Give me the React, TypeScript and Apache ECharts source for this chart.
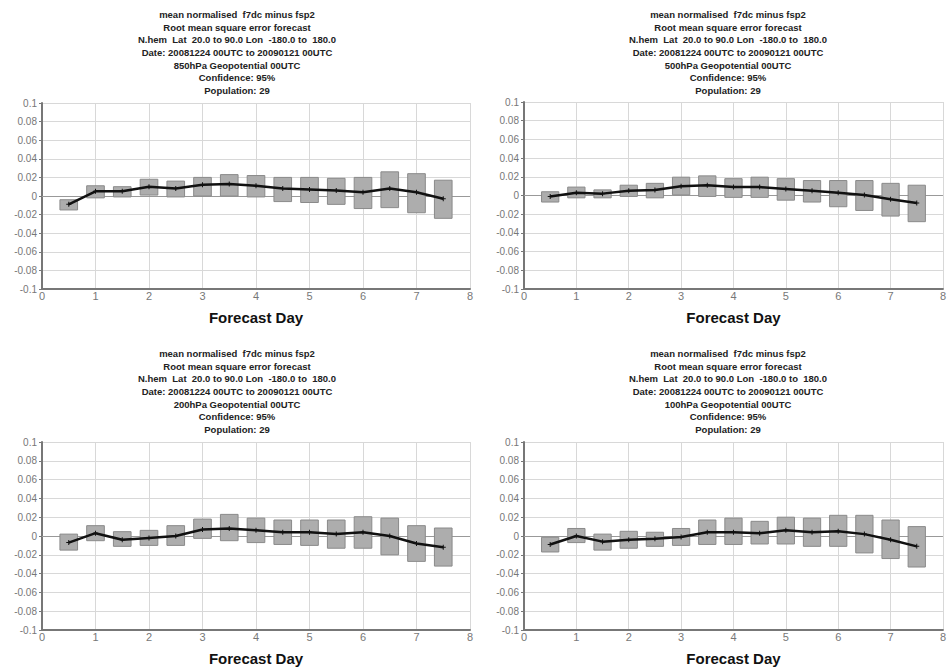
import React, { useEffect, useRef } from "react";
import * as echarts from "echarts";

const days = [0.5, 1, 1.5, 2, 2.5, 3, 3.5, 4, 4.5, 5, 5.5, 6, 6.5, 7, 7.5];
const xTicks = [0, 1, 2, 3, 4, 5, 6, 7, 8];
const yTicks = [-0.1, -0.08, -0.06, -0.04, -0.02, 0, 0.02, 0.04, 0.06, 0.08, 0.1];

const levels = ["850hPa", "500hPa", "200hPa", "100hPa"];

const mean850 = [-0.009, 0.005, 0.005, 0.01, 0.008, 0.012, 0.013, 0.011, 0.008, 0.007, 0.006, 0.004, 0.008, 0.004, -0.003];
const low850 = [-0.015, -0.002, -0.001, 0.001, -0.001, 0.0, 0.0, -0.001, -0.006, -0.007, -0.009, -0.0135, -0.0125, -0.018, -0.024];
const high850 = [-0.004, 0.011, 0.01, 0.018, 0.016, 0.02, 0.023, 0.022, 0.02, 0.02, 0.019, 0.02, 0.026, 0.024, 0.017];

const mean500 = [-0.001, 0.003, 0.002, 0.005, 0.006, 0.01, 0.011, 0.009, 0.009, 0.007, 0.005, 0.003, 0.0005, -0.004, -0.008];
const low500 = [-0.007, -0.0025, -0.0025, -0.001, -0.0025, 0.0007, -0.001, -0.002, -0.002, -0.005, -0.007, -0.012, -0.016, -0.022, -0.028];
const high500 = [0.004, 0.009, 0.006, 0.011, 0.013, 0.0196, 0.021, 0.018, 0.0196, 0.018, 0.016, 0.016, 0.016, 0.013, 0.011];

const mean200 = [-0.007, 0.003, -0.004, -0.002, 0.0, 0.007, 0.008, 0.006, 0.004, 0.004, 0.002, 0.004, 0.0, -0.008, -0.012];
const low200 = [-0.015, -0.005, -0.011, -0.01, -0.01, -0.0025, -0.005, -0.007, -0.009, -0.01, -0.013, -0.013, -0.02, -0.027, -0.032];
const high200 = [0.002, 0.011, 0.0046, 0.006, 0.011, 0.018, 0.023, 0.019, 0.017, 0.017, 0.017, 0.0205, 0.019, 0.011, 0.0085];

const mean100 = [-0.009, 0.0, -0.006, -0.004, -0.003, -0.001, 0.004, 0.004, 0.003, 0.006, 0.004, 0.005, 0.002, -0.004, -0.011];
const low100 = [-0.017, -0.007, -0.015, -0.013, -0.011, -0.01, -0.009, -0.009, -0.0085, -0.0085, -0.011, -0.011, -0.018, -0.024, -0.033];
const high100 = [-0.0014, 0.008, 0.002, 0.005, 0.004, 0.008, 0.017, 0.019, 0.0156, 0.02, 0.019, 0.022, 0.022, 0.017, 0.01];

const panels = [
  { level: levels[0], mean: mean850, low: low850, high: high850 },
  { level: levels[1], mean: mean500, low: low500, high: high500 },
  { level: levels[2], mean: mean200, low: low200, high: high200 },
  { level: levels[3], mean: mean100, low: low100, high: high100 },
];

const titleLines = (level: string) => [
  "mean normalised  f7dc minus fsp2",
  "Root mean square error forecast",
  "N.hem  Lat  20.0 to 90.0 Lon  -180.0 to  180.0",
  "Date: 20081224 00UTC to 20090121 00UTC",
  level + " Geopotential 00UTC",
  "Confidence: 95%",
  "Population: 29",
];

const grids = [
  { left: 42, top: 103, width: 428, height: 186 },
  { left: 524, top: 102, width: 421, height: 187 },
  { left: 42, top: 442, width: 428, height: 188 },
  { left: 524, top: 442, width: 421, height: 188 },
];
const titlePos = [
  { x: 237, y: 8 },
  { x: 728, y: 8 },
  { x: 237, y: 347 },
  { x: 728, y: 347 },
];

const HALF = 0.165;

export default function App() {
  const ref = useRef<HTMLDivElement>(null);
  useEffect(() => {
    if (!ref.current) return;
    const chart = echarts.init(ref.current, null, { renderer: "svg" });
    const font = "Liberation Sans, Arial, sans-serif";
    const xAxes: any[] = [];
    const yAxes: any[] = [];
    const series: any[] = [];
    panels.forEach((p, i) => {
      xAxes.push({
        type: "value",
        gridIndex: i,
        min: xTicks[0],
        max: xTicks[xTicks.length - 1],
        interval: 1,
        name: "Forecast Day",
        nameLocation: "middle",
        nameGap: 21,
        nameTextStyle: { fontSize: 15, fontWeight: "bold", color: "#111", fontFamily: font },
        axisLine: { show: true, onZero: false, lineStyle: { color: "#777", width: 2 } },
        axisTick: { show: false },
        axisLabel: { color: "#777", fontSize: 11, fontFamily: font, margin: 1 },
        splitLine: { show: true, lineStyle: { color: "#d8d8d8", width: 1 } },
      });
      yAxes.push({
        type: "value",
        gridIndex: i,
        min: yTicks[0],
        max: yTicks[yTicks.length - 1],
        interval: 0.02,
        axisLine: { show: true, lineStyle: { color: "#777", width: 2 } },
        axisTick: { show: true, length: 3, lineStyle: { color: "#777" } },
        axisLabel: { color: "#777", fontSize: 10, fontFamily: font, margin: 5 },
        splitLine: { show: true, lineStyle: { color: "#d8d8d8", width: 1 } },
      });
      series.push({
        type: "custom",
        xAxisIndex: i,
        yAxisIndex: i,
        data: days.map((d, k) => [d, p.low[k], p.high[k]]),
        encode: { x: 0, y: [1, 2] },
        renderItem: (params: any, api: any) => {
          const x = api.value(0);
          const lo = api.value(1);
          const hi = api.value(2);
          const a = api.coord([x - HALF, hi]);
          const b = api.coord([x + HALF, lo]);
          return {
            type: "rect",
            shape: { x: a[0], y: a[1], width: b[0] - a[0], height: b[1] - a[1] },
            style: { fill: "#adadad", stroke: "#8a8a8a", lineWidth: 1 },
          };
        },
        z: 2,
      });
      series.push({
        type: "line",
        xAxisIndex: i,
        yAxisIndex: i,
        data: days.map((d, k) => [d, p.mean[k]]),
        symbol: "path://M2,0H3V2H5V3H3V5H2V3H0V2H2Z",
        symbolSize: 5,
        itemStyle: { color: "#111" },
        lineStyle: { color: "#111", width: 2.5 },
        z: 3,
        markLine: {
          silent: true,
          symbol: "none",
          label: { show: false },
          lineStyle: { color: "#999", width: 1, type: "solid" },
          data: [{ yAxis: 0 }],
          z: 1,
        },
      });
    });
    const graphic = panels.map((p, i) => ({
      type: "text",
      x: titlePos[i].x,
      y: titlePos[i].y,
      style: {
        text: titleLines(p.level).join("\n"),
        fill: "#222",
        font: "bold 9.5px " + font,
        lineHeight: 12.7,
        textAlign: "center",
        textVerticalAlign: "top",
      },
    }));
    chart.setOption({
      animation: false,
      backgroundColor: "#fff",
      grid: grids,
      xAxis: xAxes,
      yAxis: yAxes,
      series,
      graphic,
    });
    return () => chart.dispose();
  }, []);
  return (
    <div
      style={{ position: "absolute", left: 0, top: 0, width: 949, height: 670, overflow: "hidden" }}
    >
      <div ref={ref} style={{ width: 949, height: 670 }} />
    </div>
  );
}
